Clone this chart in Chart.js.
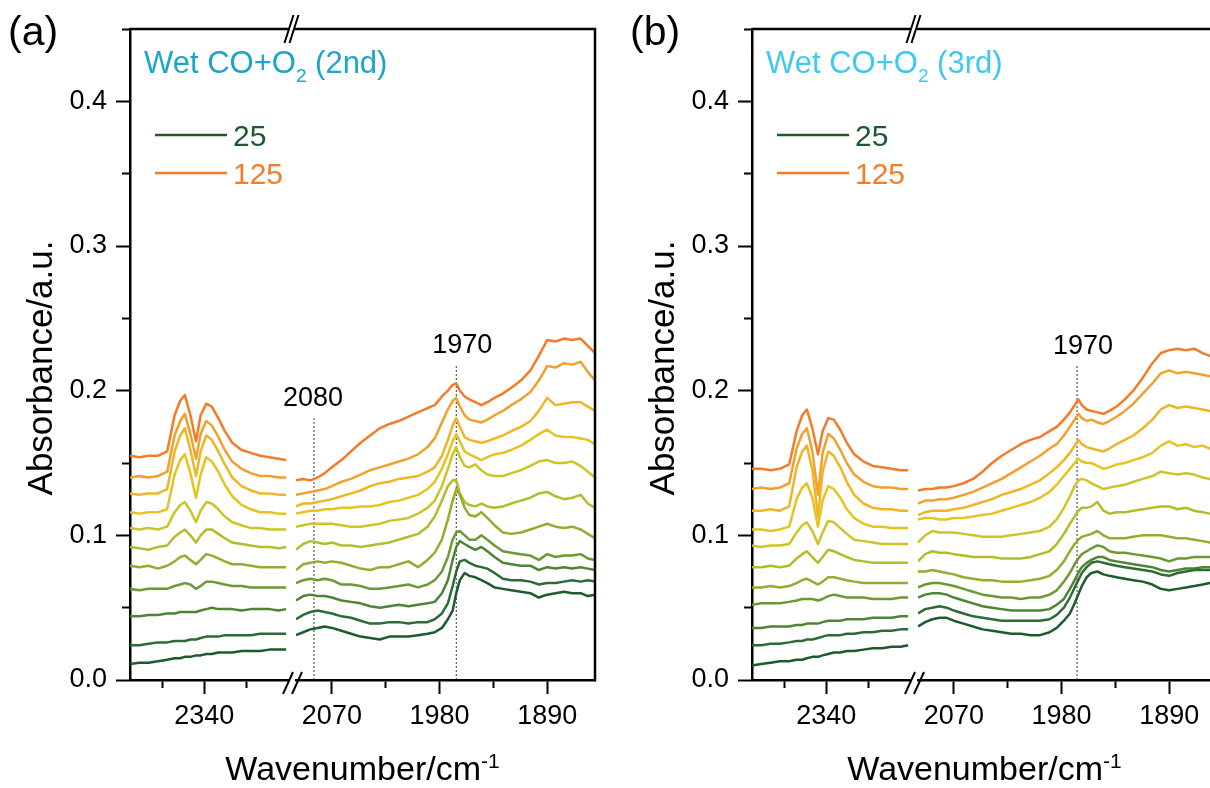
<!DOCTYPE html>
<html>
<head>
<meta charset="utf-8">
<script src="https://cdn.jsdelivr.net/npm/chart.js@4.4.1/dist/chart.umd.min.js"></script>
<style>
html, body { margin: 0; padding: 0; background: #fff; overflow: hidden; width: 1210px; height: 788px; }
.panel { position: absolute; top: 0; width: 620px; height: 788px; }
#wrapA { left: 0; }
#wrapB { left: 622px; }
</style>
</head>
<body>
<div class="panel" id="wrapA"><canvas id="chartA" width="620" height="788"></canvas></div>
<div class="panel" id="wrapB"><canvas id="chartB" width="620" height="788"></canvas></div>
<script>
var FONT = "'Liberation Sans', Arial, Helvetica, sans-serif";

// temperatures (deg C), one spectrum each
var temps = [25, 35, 45, 55, 65, 75, 85, 95, 105, 115, 125];
var colours = ['#1e5a2f', '#2c6b35', '#4e8533', '#6e9834', '#93ad30', '#b3bd2c',
               '#cdc427', '#e6c320', '#efb526', '#f1a02c', '#f47b27'];

// wavenumbers of the two axis segments
var wnLeft = [2420, 2410, 2400, 2390, 2380, 2372, 2366, 2361, 2355, 2349, 2344,
              2338, 2332, 2325, 2318, 2310, 2300, 2290, 2280, 2270, 2260, 2252];
var wnRight = [2100, 2094, 2088, 2082, 2076, 2070, 2062, 2054, 2046, 2038,
               2030, 2022, 2014, 2006, 1998, 1990, 1984, 1978, 1973, 1969,
               1966, 1963, 1959, 1955, 1950, 1945, 1940, 1934, 1927, 1920,
               1912, 1904, 1897, 1890, 1883, 1876, 1869, 1862, 1856, 1850];

// ticks
var yMajor = [0, 0.1, 0.2, 0.3, 0.4];
var yMinor = [0.05, 0.15, 0.25, 0.35, 0.45];
var xLeftMajor = [2340];
var xLeftMinor = [2385, 2295];
var xRightMajor = [2070, 1980, 1890];
var xRightMinor = [2025, 1935];

// (a) wet CO+O2, 2nd run - rows follow temps
var leftA = [
  [0.011,0.012,0.012,0.013,0.014,0.015,0.015,0.016,0.016,0.017,0.017,0.018,0.018,0.019,0.019,0.019,0.020,0.020,0.020,0.021,0.021,0.021],
  [0.024,0.024,0.025,0.026,0.026,0.027,0.027,0.027,0.028,0.028,0.029,0.030,0.030,0.030,0.031,0.031,0.031,0.031,0.032,0.032,0.032,0.032],
  [0.044,0.044,0.045,0.045,0.046,0.046,0.047,0.047,0.047,0.047,0.048,0.049,0.050,0.049,0.049,0.049,0.048,0.049,0.049,0.049,0.048,0.049],
  [0.063,0.062,0.063,0.063,0.063,0.065,0.066,0.067,0.066,0.063,0.065,0.068,0.068,0.067,0.066,0.065,0.065,0.064,0.064,0.064,0.064,0.064],
  [0.079,0.078,0.079,0.077,0.079,0.082,0.085,0.086,0.083,0.080,0.083,0.087,0.086,0.084,0.082,0.080,0.080,0.079,0.078,0.078,0.078,0.078],
  [0.092,0.091,0.090,0.092,0.093,0.099,0.102,0.104,0.100,0.095,0.100,0.104,0.104,0.101,0.098,0.095,0.094,0.093,0.092,0.092,0.091,0.092],
  [0.105,0.104,0.105,0.104,0.106,0.116,0.121,0.123,0.117,0.109,0.117,0.123,0.122,0.118,0.113,0.109,0.107,0.105,0.105,0.104,0.104,0.104],
  [0.116,0.115,0.116,0.116,0.118,0.142,0.152,0.156,0.143,0.126,0.142,0.154,0.151,0.144,0.135,0.127,0.121,0.118,0.116,0.116,0.115,0.115],
  [0.129,0.128,0.129,0.129,0.132,0.158,0.169,0.174,0.159,0.141,0.158,0.169,0.166,0.158,0.149,0.140,0.134,0.131,0.129,0.129,0.128,0.128],
  [0.140,0.141,0.140,0.141,0.144,0.169,0.179,0.184,0.170,0.153,0.170,0.179,0.176,0.168,0.159,0.151,0.146,0.143,0.141,0.141,0.140,0.140],
  [0.155,0.154,0.155,0.155,0.158,0.183,0.193,0.197,0.183,0.165,0.183,0.191,0.189,0.181,0.172,0.164,0.159,0.157,0.155,0.154,0.153,0.152]
];
var rightA = [
  [0.031,0.033,0.035,0.036,0.037,0.036,0.034,0.032,0.030,0.029,0.028,0.030,0.030,0.030,0.031,0.032,0.033,0.036,0.042,0.048,0.060,0.069,0.074,0.072,0.071,0.069,0.067,0.064,0.063,0.062,0.061,0.060,0.057,0.059,0.060,0.061,0.060,0.060,0.058,0.059],
  [0.042,0.045,0.047,0.048,0.047,0.046,0.044,0.043,0.041,0.039,0.039,0.040,0.040,0.039,0.040,0.040,0.042,0.046,0.053,0.065,0.075,0.082,0.083,0.081,0.079,0.078,0.077,0.074,0.070,0.069,0.069,0.068,0.066,0.067,0.067,0.068,0.069,0.068,0.069,0.068],
  [0.055,0.058,0.059,0.058,0.058,0.057,0.055,0.054,0.053,0.051,0.050,0.051,0.052,0.051,0.052,0.053,0.054,0.060,0.069,0.083,0.092,0.096,0.094,0.092,0.090,0.092,0.089,0.085,0.081,0.080,0.079,0.079,0.076,0.078,0.077,0.078,0.077,0.078,0.077,0.076],
  [0.067,0.069,0.070,0.069,0.070,0.069,0.066,0.066,0.065,0.063,0.063,0.064,0.065,0.066,0.064,0.066,0.069,0.075,0.085,0.097,0.102,0.103,0.100,0.097,0.097,0.100,0.097,0.093,0.089,0.088,0.087,0.086,0.083,0.087,0.085,0.086,0.086,0.087,0.084,0.083],
  [0.076,0.080,0.081,0.082,0.081,0.082,0.081,0.079,0.077,0.076,0.078,0.078,0.080,0.082,0.078,0.083,0.088,0.097,0.111,0.124,0.132,0.128,0.119,0.114,0.113,0.116,0.112,0.107,0.102,0.101,0.102,0.104,0.106,0.108,0.106,0.105,0.106,0.104,0.101,0.098],
  [0.090,0.094,0.096,0.095,0.094,0.095,0.093,0.093,0.092,0.093,0.094,0.095,0.097,0.099,0.101,0.106,0.113,0.124,0.134,0.138,0.138,0.129,0.123,0.121,0.120,0.122,0.120,0.119,0.120,0.122,0.124,0.126,0.129,0.130,0.127,0.125,0.126,0.128,0.122,0.119],
  [0.106,0.107,0.108,0.108,0.108,0.108,0.107,0.106,0.106,0.107,0.108,0.110,0.111,0.112,0.115,0.119,0.124,0.134,0.146,0.156,0.161,0.154,0.148,0.147,0.149,0.145,0.142,0.141,0.141,0.143,0.145,0.148,0.151,0.152,0.150,0.150,0.151,0.148,0.144,0.140],
  [0.115,0.116,0.117,0.117,0.118,0.118,0.119,0.119,0.120,0.120,0.121,0.123,0.124,0.126,0.128,0.132,0.137,0.146,0.156,0.165,0.170,0.165,0.158,0.156,0.154,0.152,0.154,0.156,0.157,0.159,0.162,0.166,0.170,0.173,0.169,0.168,0.168,0.167,0.166,0.163],
  [0.120,0.122,0.122,0.123,0.124,0.125,0.127,0.129,0.131,0.134,0.136,0.137,0.139,0.140,0.141,0.144,0.147,0.155,0.166,0.176,0.181,0.175,0.168,0.166,0.165,0.164,0.165,0.167,0.169,0.172,0.175,0.179,0.186,0.195,0.190,0.191,0.192,0.192,0.189,0.186],
  [0.128,0.129,0.130,0.131,0.132,0.134,0.137,0.139,0.142,0.145,0.147,0.149,0.151,0.153,0.156,0.161,0.167,0.178,0.187,0.193,0.195,0.189,0.183,0.180,0.179,0.178,0.180,0.183,0.186,0.190,0.194,0.199,0.207,0.217,0.216,0.219,0.218,0.220,0.213,0.207],
  [0.138,0.139,0.138,0.140,0.143,0.147,0.152,0.158,0.164,0.169,0.174,0.177,0.179,0.182,0.185,0.188,0.190,0.196,0.200,0.204,0.205,0.200,0.196,0.194,0.192,0.190,0.192,0.195,0.198,0.202,0.207,0.214,0.224,0.235,0.234,0.236,0.235,0.236,0.231,0.226]
];

// (b) wet CO+O2, 3rd run
var leftB = [
  [0.010,0.011,0.012,0.013,0.013,0.014,0.014,0.015,0.016,0.016,0.017,0.018,0.019,0.019,0.020,0.020,0.021,0.022,0.022,0.023,0.023,0.024],
  [0.024,0.024,0.025,0.025,0.026,0.027,0.027,0.028,0.028,0.029,0.030,0.031,0.031,0.031,0.032,0.032,0.033,0.033,0.034,0.034,0.035,0.035],
  [0.036,0.036,0.037,0.037,0.037,0.038,0.038,0.039,0.039,0.039,0.040,0.041,0.041,0.041,0.042,0.042,0.042,0.043,0.043,0.043,0.044,0.044],
  [0.052,0.053,0.053,0.053,0.054,0.055,0.056,0.056,0.056,0.055,0.056,0.058,0.059,0.058,0.057,0.057,0.057,0.056,0.056,0.056,0.057,0.057],
  [0.064,0.064,0.065,0.064,0.065,0.067,0.069,0.070,0.068,0.066,0.068,0.071,0.071,0.070,0.069,0.068,0.067,0.067,0.067,0.067,0.067,0.067],
  [0.078,0.078,0.079,0.078,0.079,0.084,0.087,0.089,0.085,0.081,0.085,0.090,0.089,0.087,0.085,0.083,0.082,0.081,0.081,0.081,0.081,0.081],
  [0.093,0.092,0.093,0.093,0.094,0.102,0.107,0.109,0.103,0.094,0.102,0.110,0.109,0.105,0.101,0.097,0.096,0.095,0.094,0.094,0.094,0.094],
  [0.104,0.104,0.103,0.104,0.106,0.125,0.133,0.136,0.126,0.106,0.124,0.134,0.132,0.126,0.118,0.112,0.108,0.106,0.106,0.105,0.105,0.105],
  [0.117,0.117,0.118,0.117,0.120,0.147,0.158,0.162,0.145,0.113,0.144,0.158,0.155,0.147,0.137,0.128,0.122,0.119,0.118,0.118,0.117,0.117],
  [0.132,0.133,0.132,0.133,0.136,0.160,0.170,0.174,0.158,0.128,0.157,0.170,0.167,0.159,0.150,0.142,0.137,0.134,0.133,0.133,0.132,0.132],
  [0.146,0.146,0.145,0.146,0.149,0.172,0.183,0.187,0.174,0.156,0.172,0.181,0.180,0.173,0.164,0.156,0.151,0.148,0.147,0.146,0.145,0.145]
];
var rightB = [
  [0.037,0.040,0.042,0.043,0.043,0.041,0.039,0.037,0.035,0.034,0.033,0.032,0.032,0.031,0.031,0.033,0.036,0.041,0.046,0.053,0.059,0.065,0.071,0.074,0.075,0.073,0.072,0.071,0.070,0.069,0.068,0.066,0.063,0.062,0.063,0.064,0.065,0.066,0.067,0.068],
  [0.046,0.049,0.050,0.051,0.050,0.048,0.046,0.044,0.043,0.042,0.041,0.041,0.041,0.041,0.041,0.042,0.045,0.050,0.057,0.064,0.069,0.074,0.078,0.081,0.082,0.081,0.080,0.079,0.078,0.077,0.076,0.075,0.073,0.072,0.074,0.075,0.076,0.076,0.076,0.076],
  [0.057,0.059,0.060,0.060,0.059,0.057,0.055,0.053,0.051,0.050,0.049,0.048,0.048,0.048,0.048,0.049,0.052,0.056,0.063,0.069,0.074,0.078,0.081,0.083,0.085,0.085,0.083,0.082,0.081,0.080,0.079,0.078,0.076,0.075,0.076,0.077,0.077,0.078,0.078,0.078],
  [0.064,0.066,0.067,0.067,0.066,0.065,0.063,0.061,0.059,0.058,0.057,0.057,0.056,0.057,0.057,0.059,0.062,0.068,0.074,0.080,0.084,0.087,0.089,0.091,0.093,0.092,0.089,0.088,0.088,0.087,0.086,0.085,0.084,0.082,0.084,0.084,0.085,0.085,0.085,0.085],
  [0.075,0.075,0.076,0.075,0.074,0.073,0.071,0.070,0.069,0.069,0.068,0.068,0.068,0.069,0.070,0.072,0.076,0.082,0.089,0.094,0.097,0.099,0.100,0.101,0.103,0.100,0.098,0.098,0.098,0.099,0.100,0.100,0.100,0.099,0.098,0.098,0.097,0.096,0.095,0.094],
  [0.082,0.087,0.089,0.088,0.088,0.087,0.086,0.085,0.085,0.085,0.084,0.084,0.084,0.085,0.087,0.089,0.094,0.101,0.108,0.113,0.117,0.119,0.119,0.120,0.123,0.117,0.115,0.116,0.116,0.117,0.118,0.119,0.120,0.120,0.118,0.119,0.117,0.116,0.115,0.114],
  [0.095,0.100,0.103,0.102,0.102,0.102,0.101,0.100,0.099,0.099,0.099,0.100,0.101,0.102,0.103,0.106,0.111,0.119,0.127,0.134,0.138,0.139,0.138,0.136,0.134,0.132,0.133,0.134,0.135,0.137,0.139,0.141,0.144,0.143,0.142,0.143,0.142,0.140,0.139,0.138],
  [0.111,0.112,0.112,0.111,0.111,0.112,0.112,0.113,0.114,0.115,0.117,0.119,0.121,0.123,0.126,0.130,0.135,0.141,0.146,0.150,0.153,0.151,0.150,0.150,0.148,0.146,0.147,0.149,0.150,0.152,0.154,0.157,0.162,0.165,0.162,0.163,0.161,0.162,0.160,0.159],
  [0.114,0.116,0.117,0.117,0.117,0.118,0.119,0.121,0.123,0.125,0.128,0.130,0.132,0.135,0.138,0.143,0.147,0.152,0.157,0.162,0.166,0.163,0.161,0.160,0.159,0.158,0.160,0.163,0.166,0.169,0.174,0.180,0.187,0.190,0.188,0.189,0.188,0.187,0.186,0.185],
  [0.122,0.124,0.124,0.125,0.125,0.126,0.128,0.130,0.133,0.136,0.139,0.143,0.147,0.151,0.155,0.160,0.163,0.169,0.175,0.180,0.184,0.181,0.179,0.180,0.178,0.177,0.179,0.182,0.186,0.191,0.198,0.205,0.212,0.214,0.212,0.213,0.212,0.211,0.210,0.209],
  [0.131,0.132,0.132,0.133,0.133,0.134,0.136,0.139,0.144,0.150,0.155,0.159,0.163,0.166,0.168,0.172,0.175,0.180,0.185,0.190,0.194,0.190,0.187,0.186,0.185,0.184,0.186,0.189,0.194,0.200,0.209,0.219,0.226,0.228,0.229,0.228,0.229,0.226,0.224,0.223]
];

// dashed guide lines: [wavenumber, top absorbance, label]
var marksA = [[2085, 0.181, '2080'], [1966, 0.218, '1970']];
var marksB = [[1967, 0.217, '1970']];

Chart.defaults.font.family = FONT;
Chart.defaults.color = '#000';

function drawParts(ctx, parts, x, y, align) {
  var w = 0;
  parts.forEach(function(p) { ctx.font = p[1] + 'px ' + FONT; w += ctx.measureText(p[0]).width; });
  var cx = align === 'center' ? x - w / 2 : x;
  ctx.textAlign = 'left';
  parts.forEach(function(p) {
    ctx.font = p[1] + 'px ' + FONT;
    ctx.fillText(p[0], cx, y + (p[2] || 0));
    cx += ctx.measureText(p[0]).width;
  });
}

// frame, axis breaks and all the free text
var deco = {
  id: 'deco',
  afterDraw: function(chart, args, o) {
    var ctx = chart.ctx, ca = chart.chartArea;
    var sL = chart.scales.xL, sR = chart.scales.xR;
    ctx.save();
    ctx.strokeStyle = '#000';
    ctx.lineWidth = 2.5;
    ctx.beginPath();
    ctx.moveTo(ca.left, ca.top); ctx.lineTo(sL.right + 1, ca.top);
    ctx.moveTo(sR.left - 1, ca.top); ctx.lineTo(ca.right + 1.25, ca.top);
    ctx.moveTo(ca.right, ca.top); ctx.lineTo(ca.right, ca.bottom + 1.25);
    ctx.stroke();

    var gx = (sL.right + sR.left) / 2;
    ctx.lineWidth = 2;
    ctx.beginPath();
    [-3, 2].forEach(function(d) {
      ctx.moveTo(gx + d - 4.5, ca.top + 14); ctx.lineTo(gx + d + 4.5, ca.top - 14);
    });
    [-4, 5].forEach(function(d) {
      ctx.moveTo(gx + d - 5, ca.bottom + 14); ctx.lineTo(gx + d + 5, ca.bottom - 8);
    });
    ctx.stroke();

    ctx.fillStyle = '#000';
    ctx.textBaseline = 'alphabetic';
    drawParts(ctx, [[o.tag, 41]], 8, 45);

    ctx.fillStyle = o.titleColor;
    drawParts(ctx, [['Wet CO+O', 31], ['2', 19, 9], [' (' + o.run + ')', 31]], ca.left + 14, 73);

    // legend: first and last temperature
    [[0, 135], [temps.length - 1, 173]].forEach(function(e) {
      ctx.strokeStyle = colours[e[0]];
      ctx.lineWidth = 2.5;
      ctx.beginPath();
      ctx.moveTo(ca.left + 25, e[1]); ctx.lineTo(ca.left + 97, e[1]);
      ctx.stroke();
      ctx.fillStyle = colours[e[0]];
      drawParts(ctx, [[String(temps[e[0]]), 30]], ca.left + 103, e[1] + 11);
    });

    ctx.fillStyle = '#000';
    o.marks.forEach(function(m) {
      var px = sR.getPixelForValue(m[0]);
      var py = chart.scales.y.getPixelForValue(m[1]);
      drawParts(ctx, [[m[2], 27]], px + (m[2] === '1970' ? 6 : -1), py - 12, 'center');
    });

    drawParts(ctx, [['Wavenumber/cm', 34], ['-1', 21, -12]], (ca.left + ca.right) / 2, 780, 'center');

    ctx.translate(52, 368);
    ctx.rotate(-Math.PI / 2);
    drawParts(ctx, [['Absorbance/a.u.', 35]], 0, 0, 'center');
    ctx.restore();
  }
};

function tickAxis(major, minor, extra) {
  var all = major.concat(minor).sort(function(a, b) { return a - b; });
  var isMajor = function(v) { return major.indexOf(v) >= 0; };
  var base = {
    type: 'linear',
    position: 'bottom',
    afterBuildTicks: function(s) { s.ticks = all.map(function(v) { return {value: v}; }); },
    border: {display: true, color: '#000', width: 2.5},
    grid: {
      display: true, drawOnChartArea: false, drawTicks: true,
      tickLength: 14, tickWidth: 2, tickColor: '#000',
      tickBorderDash: function(c) { return c.tick && !isMajor(c.tick.value) ? [6.5, 50] : []; }
    },
    ticks: {
      autoSkip: false, maxRotation: 0, padding: 6,
      font: {size: 27}, color: '#000',
      callback: function(v) { return isMajor(v) ? String(v) : ''; }
    }
  };
  return Object.assign(base, extra);
}

function makeChart(id, left, right, marks, tag, run, titleColor) {
  var datasets = [];
  temps.forEach(function(t, i) {
    var common = {
      label: t + ' \u00b0C', yAxisID: 'y', borderColor: colours[i], borderWidth: 2.5,
      pointRadius: 0, tension: 0, fill: false, borderJoinStyle: 'round'
    };
    datasets.push(Object.assign({}, common, {
      xAxisID: 'xL', data: wnLeft.map(function(x, j) { return {x: x, y: left[i][j]}; })
    }));
    datasets.push(Object.assign({}, common, {
      xAxisID: 'xR', data: wnRight.map(function(x, j) { return {x: x, y: right[i][j]}; })
    }));
  });
  marks.forEach(function(m) {
    datasets.push({
      label: m[2], xAxisID: 'xR', yAxisID: 'y', borderColor: '#333', borderWidth: 1,
      borderDash: [2, 2], pointRadius: 0, data: [{x: m[0], y: 0}, {x: m[0], y: m[1]}]
    });
  });

  var yAll = yMajor.concat(yMinor).sort(function(a, b) { return a - b; });
  var fitX = function(s) { s.height = 108; };

  return new Chart(document.getElementById(id), {
    type: 'line',
    data: {datasets: datasets},
    options: {
      responsive: false,
      animation: false,
      layout: {padding: {top: 29, right: 25, bottom: 0, left: 0}},
      plugins: {
        legend: {display: false},
        tooltip: {enabled: false},
        deco: {tag: tag, run: run, titleColor: titleColor, marks: marks}
      },
      scales: {
        xL: tickAxis(xLeftMajor, xLeftMinor, {min: 2250, max: 2420, reverse: true, stack: 'wn', stackWeight: 158, afterFit: fitX}),
        xG: {
          type: 'linear', position: 'bottom', stack: 'wn', stackWeight: 8, min: 0, max: 1,
          grid: {display: false}, ticks: {display: false}, border: {display: false}, afterFit: fitX
        },
        xR: tickAxis(xRightMajor, xRightMinor, {min: 1850, max: 2100, reverse: true, stack: 'wn', stackWeight: 299, afterFit: fitX}),
        y: {
          type: 'linear', position: 'left', min: 0, max: 0.45,
          afterFit: function(s) { s.width = 130; },
          afterBuildTicks: function(s) { s.ticks = yAll.map(function(v) { return {value: v}; }); },
          border: {display: true, color: '#000', width: 2.5},
          grid: {
            display: true, drawOnChartArea: false, drawTicks: true,
            tickLength: 14, tickWidth: 2, tickColor: '#000',
            tickBorderDash: function(c) {
              return c.tick && yMajor.indexOf(c.tick.value) < 0 ? [0, 6, 7, 50] : [];
            }
          },
          ticks: {
            autoSkip: false, padding: 9, font: {size: 27}, color: '#000',
            callback: function(v) { return yMajor.indexOf(v) >= 0 ? v.toFixed(1) : ''; }
          }
        }
      }
    },
    plugins: [deco]
  });
}

makeChart('chartA', leftA, rightA, marksA, '(a)', '2nd', '#1ba6c6');
makeChart('chartB', leftB, rightB, marksB, '(b)', '3rd', '#3fc8f2');
</script>
</body>
</html>
